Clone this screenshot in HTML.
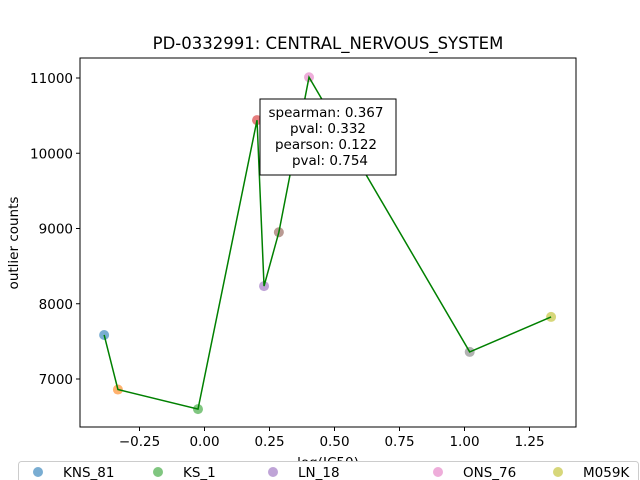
<!DOCTYPE html>
<html><head><meta charset="utf-8"><style>
body{margin:0;background:#fff;}
svg{display:block;font-family:"DejaVu Sans","Liberation Sans",sans-serif;}
</style></head><body>
<svg id="chart" width="640" height="480" viewBox="0 0 640 480">
<rect width="640" height="480" fill="#fff"/>
<text x="328" y="49" text-anchor="middle" font-size="16.5">PD-0332991: CENTRAL_NERVOUS_SYSTEM</text>
<g id="axes"></g>
<g id="series"></g>
<rect x="80" y="58" width="496" height="369" fill="none" stroke="#000" stroke-width="1"/>
<g>
<rect x="260" y="99" width="136" height="76" fill="#fff" stroke="#000" stroke-width="1"/>
<text x="326" y="117" text-anchor="middle" font-size="13.5">spearman: 0.367</text>
<text x="328" y="133" text-anchor="middle" font-size="13.5">pval: 0.332</text>
<text x="326" y="149" text-anchor="middle" font-size="13.5">pearson: 0.122</text>
<text x="330" y="165" text-anchor="middle" font-size="13.5">pval: 0.754</text>
</g>
<text x="328" y="467" text-anchor="middle" font-size="13.5">log(IC50)</text>
<text transform="translate(18,243) rotate(-90)" text-anchor="middle" font-size="13.5">outlier counts</text>
<g id="legend">
<rect x="18.5" y="461.5" width="620" height="30" rx="3" fill="#fff" stroke="#ccc"/>
</g>
</svg>
<script>
const names=["KNS_81","unk_orange","KS_1","unk_red","LN_18","unk_brown","ONS_76","unk_grey","M059K"];
const xVals=[-0.386,-0.333,-0.025,0.202,0.229,0.286,0.402,1.02,1.333];
const yVals=[7585,6860,6600,10440,8235,8950,11010,7360,7825];
const colors=["#1f77b4","#ff7f0e","#2ca02c","#d62728","#9467bd","#8c564b","#e377c2","#7f7f7f","#bcbd22"];
const xTicks=[-0.25,0,0.25,0.5,0.75,1.0,1.25];
const xTickLabels=["−0.25","0.00","0.25","0.50","0.75","1.00","1.25"];
const yTicks=[7000,8000,9000,10000,11000];
const legendNames=["KNS_81","KS_1","LN_18","ONS_76","M059K"];
const legendIdx=[0,2,4,6,8];
const legendX=[38,158,273,438,558];

const NS="http://www.w3.org/2000/svg";
const xs=v=>204.5+v*260;
const ys=v=>379-(v-7000)*0.07525;
function mk(t,a,p){const e=document.createElementNS(NS,t);for(const k in a)e.setAttribute(k,a[k]);p.appendChild(e);return e;}
const ax=document.getElementById('axes');
xTicks.forEach((t,i)=>{
 const l=mk('line',{x1:xs(t),x2:xs(t),y1:427,y2:431,stroke:'#000'},ax);
 
 
 const tx=mk('text',{x:xs(t),y:446,'text-anchor':'middle','font-size':'13.5'},ax);
 tx.textContent=xTickLabels[i];
 
 
});
yTicks.forEach(t=>{
 const l=mk('line',{x1:76,x2:80,y1:ys(t),y2:ys(t),stroke:'#000'},ax);
 
 
 const tx=mk('text',{x:73,y:ys(t)+5,'text-anchor':'end','font-size':'13.5'},ax);
 tx.textContent=String(t);
 
 
});
const sg=document.getElementById('series');
xVals.forEach((x,i)=>{
 const c=mk('circle',{cx:xs(x),cy:ys(yVals[i]),r:5,fill:colors[i],'fill-opacity':0.6},sg);
 
 
});
const pts=xVals.map((x,i)=>[x,yVals[i]]).sort((a,b)=>a[0]-b[0]).map(p=>xs(p[0])+','+ys(p[1])).join(' ');
const pl=mk('polyline',{points:pts,fill:'none',stroke:'#008000','stroke-width':1.5},sg);


const lg=document.getElementById('legend');
legendNames.forEach((n,i)=>{
 const c=mk('circle',{cx:legendX[i],cy:472,r:5,fill:colors[legendIdx[i]],'fill-opacity':0.6},lg);
 
 
 const t=mk('text',{x:legendX[i]+25,y:477,'font-size':'13.5'},lg);
 t.textContent=n;
 
 
});
</script>
</body></html>
